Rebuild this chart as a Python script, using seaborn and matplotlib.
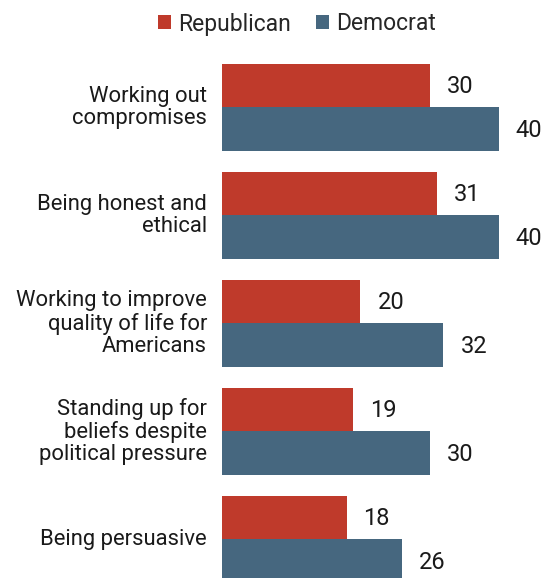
import matplotlib
matplotlib.use("Agg")
import matplotlib.pyplot as plt
import seaborn as sns
import pandas as pd
from matplotlib.patches import Patch

categories = [
    "Working out\ncompromises",
    "Being honest and\nethical",
    "Working to improve\nquality of life for\nAmericans",
    "Standing up for\nbeliefs despite\npolitical pressure",
    "Being persuasive",
]
republican = [30, 31, 20, 19, 18]
democrat = [40, 40, 32, 30, 26]
parties = ["Republican", "Democrat"]
colors = {"Republican": "#BF3A2B", "Democrat": "#46677F"}

df = pd.DataFrame({
    "trait": categories * 2,
    "party": [parties[0]] * len(categories) + [parties[1]] * len(categories),
    "value": republican + democrat,
})

sns.set_theme(style="white")
plt.rcParams["font.family"] = ["Roboto", "DejaVu Sans"]

W, H = 544, 578
fig = plt.figure(figsize=(W / 100, H / 100), dpi=100)
ax = fig.add_axes([0, 0, 1, 1])

sns.barplot(data=df, y="trait", x="value", hue="party", hue_order=parties,
            palette=colors, orient="h", width=0.81, ax=ax, legend=False,
            saturation=1, edgecolor="none")

# pixel geometry: bars start at x=222, 6.92 px per unit; groups 108 px apart
px_per_unit = 6.92
x0 = 222
ax.set_xlim(-x0 / px_per_unit, (W - x0) / px_per_unit)
c0 = 107.5
step = 108
ax.set_ylim((H - c0) / step, -c0 / step)
ax.axis("off")

# value labels
for container in ax.containers:
    for bar in container:
        v = bar.get_width()
        yc = bar.get_y() + bar.get_height() / 2
        ax.text(v + 17 / px_per_unit, yc + 0.01, f"{v:.0f}", va="center", ha="left",
                fontsize=17, color="#1a1a1a")

# category labels
for i, cat in enumerate(categories):
    ax.text(-15 / px_per_unit, i, cat, ha="right", va="center", fontsize=15.8,
            color="#1a1a1a", linespacing=1.08)

# legend
handles = [Patch(facecolor=colors[p], edgecolor="none") for p in parties]
fig.legend(handles, parties, loc="center", bbox_to_anchor=(297 / W, 1 - 24 / H),
           ncol=2, frameon=False, fontsize=16.5, handlelength=0.57, handleheight=0.57,
           handletextpad=0.3, columnspacing=1.1, borderaxespad=0, borderpad=0)

fig.savefig("out.png", dpi=100)
